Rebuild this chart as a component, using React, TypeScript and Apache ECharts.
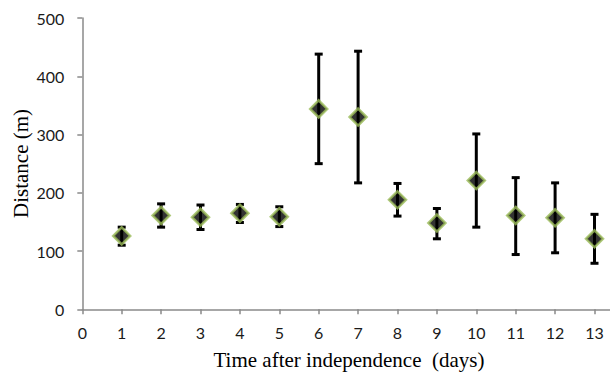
import React, { useEffect, useRef } from "react";
import * as echarts from "echarts";

const days = [1, 2, 3, 4, 5, 6, 7, 8, 9, 10, 11, 12, 13];
const meanDistance = [126, 161, 158, 165, 159, 344, 330, 188, 148, 221, 161, 157, 121];
const upperBound = [141, 181, 179, 180, 176, 438, 443, 216, 173, 301, 226, 217, 163];
const lowerBound = [110, 141, 137, 149, 142, 250, 217, 160, 121, 141, 94, 97, 79];
const xTickLabels = ["0", "1", "2", "3", "4", "5", "6", "7", "8", "9", "10", "11", "12", "13"];
const xTitle = "Time after independence  (days)";
const yTitle = "Distance (m)";

export default function App() {
  const ref = useRef<HTMLDivElement>(null);
  useEffect(() => {
    if (!ref.current) return;
    const chart = echarts.init(ref.current, undefined, { renderer: "svg" });
    const errData = days.map((d, i) => [d, lowerBound[i], upperBound[i]]);
    const ptData = days.map((d, i) => [d, meanDistance[i]]);
    const tickFont = { fontFamily: "Lato", fontSize: 16, color: "#1a1a1a" };
    chart.setOption({
      animation: false,
      backgroundColor: "#ffffff",
      grid: { left: 82.3, top: 18, bottom: 67.7, width: 551.6, containLabel: false },
      xAxis: {
        type: "value",
        min: 0,
        max: 14,
        interval: 1,
        splitLine: { show: false },
        axisLine: { show: true, onZero: false, lineStyle: { color: "#8a8a8a", width: 1.5 } },
        axisTick: { show: true, inside: false, length: 5, lineStyle: { color: "#8a8a8a", width: 1.5 } },
        axisLabel: {
          ...tickFont,
          margin: 15,
          formatter: (v: number) => xTickLabels[Math.round(v)] ?? "",
        },
      },
      yAxis: {
        type: "value",
        min: 0,
        max: 500,
        interval: 100,
        splitLine: { show: false },
        axisLine: { show: true, lineStyle: { color: "#8a8a8a", width: 1.5 } },
        axisTick: { show: true, inside: false, length: 5, lineStyle: { color: "#8a8a8a", width: 1.5 } },
        axisLabel: { ...tickFont, margin: 18 },
      },
      graphic: [
        {
          type: "text",
          x: 349,
          y: 360,
          style: {
            text: xTitle,
            fontFamily: "Liberation Serif",
            fontSize: 21,
            fill: "#000",
            align: "center",
            verticalAlign: "middle",
          },
        },
        {
          type: "text",
          x: 21,
          y: 163.5,
          rotation: Math.PI / 2,
          style: {
            text: yTitle,
            fontFamily: "Liberation Serif",
            fontSize: 21,
            fill: "#000",
            align: "center",
            verticalAlign: "middle",
          },
        },
      ],
      series: [
        {
          type: "custom",
          z: 2,
          data: errData,
          renderItem: (params: any, api: any) => {
            const x = api.value(0);
            const lo = api.coord([x, api.value(1)]);
            const hi = api.coord([x, api.value(2)]);
            const hw = 4;
            const st = { stroke: "#000", lineWidth: 3 };
            return {
              type: "group",
              children: [
                { type: "line", shape: { x1: lo[0], y1: lo[1], x2: hi[0], y2: hi[1] }, style: st },
                { type: "line", shape: { x1: hi[0] - hw, y1: hi[1], x2: hi[0] + hw, y2: hi[1] }, style: st },
                { type: "line", shape: { x1: lo[0] - hw, y1: lo[1], x2: lo[0] + hw, y2: lo[1] }, style: st },
              ],
            };
          },
        },
        {
          type: "scatter",
          z: 3,
          data: ptData,
          symbol: "diamond",
          symbolSize: 17,
          itemStyle: { color: "#000", borderColor: "#9BBB59", borderWidth: 2.5 },
        },
      ],
    });
    return () => chart.dispose();
  }, []);
  return (
    <div style={{ position: "absolute", left: 0, top: 0, width: 610, height: 377, overflow: "hidden", background: "#fff" }}>
      <div ref={ref} style={{ width: 660, height: 377 }} />
    </div>
  );
}
